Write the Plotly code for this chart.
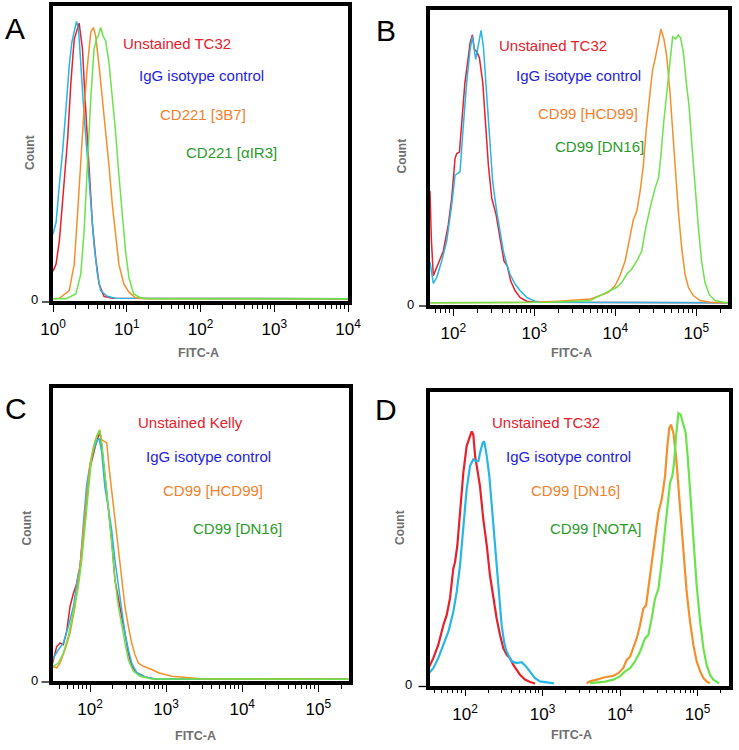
import math
import plotly.graph_objects as go

W, H = 739, 750

# ---------------- data (FITC-A value, normalised count) ----------------
# Panel A
A_red_x = [1.0, 1.10, 1.22, 1.42, 1.58, 1.75, 1.94, 2.26, 2.51, 2.72, 2.93, 3.18, 3.42, 3.79, 4.21, 4.91, 6.37, 10000]
A_red_y = [9.5, 11.9, 19.8, 38.8, 54.5, 73.6, 88.2, 93.6, 84.8, 68.0, 54.5, 38.8, 25.4, 14.1, 5.2, 1.0, 0.3, 0.2]
A_cyan_x = [1.0, 1.10, 1.22, 1.35, 1.50, 1.66, 1.80, 2.08, 2.22, 2.38, 2.64, 2.93, 3.25, 3.60, 4.00, 4.43, 5.45, 7.05, 10000]
A_cyan_y = [22.0, 26.0, 38.8, 50.1, 64.6, 79.2, 87.1, 94.2, 91.6, 79.2, 62.4, 47.8, 32.1, 18.6, 8.5, 2.9, 1.0, 0.3, 0.2]
A_orange_x = [1.0, 1.22, 1.66, 1.94, 2.15, 2.38, 2.64, 2.93, 3.25, 3.53, 3.79, 4.21, 4.67, 5.17, 5.73, 6.37, 7.05, 7.82, 9.12, 10.7, 13.1, 17.9, 10000]
A_orange_y = [0.2, 0.3, 2.9, 11.9, 28.7, 47.8, 64.6, 79.2, 90.5, 92.1, 89.3, 79.2, 68.0, 59.0, 45.6, 32.1, 20.9, 11.9, 5.2, 2.4, 0.5, 0.2, 0.2]
A_green_x = [1.0, 1.50, 2.04, 2.38, 2.64, 2.93, 3.25, 3.60, 3.88, 4.12, 4.43, 4.76, 5.17, 5.73, 6.37, 7.05, 7.82, 8.67, 9.62, 10.7, 12.4, 15.3, 19.8, 10000]
A_green_y = [0.2, 0.2, 1.8, 8.5, 23.1, 45.6, 68.0, 84.8, 88.2, 89.3, 92.1, 89.3, 87.6, 80.4, 69.1, 56.8, 42.2, 28.7, 16.4, 7.4, 1.8, 0.5, 0.2, 0.2]

# Panel B
B_red_x = [51.5, 53.5, 56.6, 65.3, 75.3, 86.7, 95.5, 105, 110, 119, 127, 139, 149, 161, 172, 182, 194, 210, 231, 251, 271, 298, 337, 377, 422, 464, 510, 578, 665, 805, 1020, 250000]
B_red_y = [38.0, 22.0, 9.3, 13.2, 17.7, 26.6, 35.6, 49.0, 50.7, 51.2, 61.3, 74.7, 80.9, 88.2, 90.9, 85.9, 85.3, 83.1, 74.7, 60.2, 46.7, 35.6, 30.0, 22.1, 14.3, 12.6, 7.6, 4.3, 2.0, 0.7, 0.3, 0.2]
B_cyan_x = [51.5, 56.6, 62.4, 71.9, 82.8, 95.5, 105, 112, 121, 131, 146, 161, 172, 189, 204, 220, 235, 253, 276, 306, 343, 377, 414, 456, 501, 578, 665, 805, 1020, 1290, 250000]
B_cyan_y = [14.0, 6.7, 8.7, 14.3, 21.0, 33.3, 43.4, 44.0, 44.5, 57.9, 74.7, 85.9, 90.4, 82.6, 88.2, 92.4, 87.0, 74.7, 57.9, 41.2, 31.1, 24.4, 17.7, 13.2, 9.8, 6.5, 4.3, 2.0, 0.7, 0.3, 0.2]
B_orange_x = [52, 1000, 2000, 3500, 4880, 6480, 8210, 9910, 11400, 13200, 14900, 16700, 18400, 20200, 22200, 23900, 26300, 28900, 30900, 34000, 36600, 39900, 43100, 47300, 51000, 55100, 60000, 65900, 72500, 79700, 91800, 111000, 148000, 250000]
B_orange_y = [0.2, 0.3, 0.7, 1.0, 1.4, 2.6, 3.7, 5.9, 9.3, 14.3, 21.0, 28.3, 31.1, 37.8, 46.7, 57.9, 69.1, 79.2, 82.6, 88.2, 92.8, 89.3, 83.7, 71.4, 57.9, 44.5, 31.1, 18.8, 9.8, 5.4, 2.6, 0.9, 0.3, 0.2]
B_green_x = [52, 1500, 3000, 4880, 6480, 8610, 10400, 12000, 13800, 15900, 18400, 21200, 23300, 26800, 30900, 34000, 36300, 39200, 43100, 47300, 51000, 55600, 60000, 64100, 69200, 76000, 81200, 87600, 96300, 106000, 116000, 128000, 145000, 170000, 215000, 250000]
B_green_y = [0.2, 0.3, 0.6, 0.9, 2.6, 4.3, 5.4, 7.0, 9.8, 11.5, 14.3, 17.7, 24.4, 32.2, 38.9, 42.3, 49.0, 60.2, 71.4, 83.7, 90.2, 89.5, 90.9, 89.8, 84.8, 73.6, 66.9, 54.6, 38.9, 25.5, 14.3, 7.0, 2.8, 0.9, 0.3, 0.2]

# Panel C
C_red_x = [32.1, 33.0, 36.5, 40.4, 44.6, 49.4, 54.6, 60.4, 66.8, 73.9, 81.7, 90.5, 100, 110, 119, 129, 135, 142, 157, 174, 193, 213, 236, 261, 288, 319, 353, 411, 528, 714, 250000]
C_red_y = [5.5, 6.8, 11.3, 12.5, 11.9, 16.5, 24.8, 29.3, 32.7, 38.3, 50.6, 61.9, 71.9, 76.4, 79.8, 82.6, 84.3, 79.8, 69.7, 58.5, 47.2, 33.8, 27.0, 21.4, 15.8, 9.1, 4.6, 2.4, 1.0, 0.3, 0.2]
C_cyan_x = [32.1, 33.0, 38.4, 44.6, 51.9, 60.4, 70.2, 73.9, 81.7, 90.5, 100, 110, 122, 131, 142, 157, 174, 193, 213, 236, 261, 288, 319, 353, 411, 528, 714, 250000]
C_cyan_y = [6.5, 7.4, 10.2, 12.5, 18.1, 24.8, 36.0, 38.3, 52.9, 66.3, 73.1, 77.5, 80.9, 82.0, 77.5, 65.2, 58.5, 50.6, 40.5, 31.5, 22.6, 15.8, 10.2, 5.7, 2.4, 1.0, 0.3, 0.2]
C_orange_x = [32.1, 33.0, 36.5, 40.4, 46.9, 54.6, 63.5, 73.9, 81.7, 90.5, 100, 110, 122, 133, 142, 154, 166, 178, 193, 213, 236, 261, 288, 319, 353, 390, 432, 501, 584, 647, 790, 968, 1190, 1450, 1960, 3000, 250000]
C_orange_y = [4.4, 4.6, 4.0, 5.7, 10.2, 15.8, 24.8, 38.3, 50.6, 63.0, 73.1, 78.7, 82.6, 84.8, 81.5, 80.9, 80.4, 71.9, 64.1, 52.9, 43.9, 34.9, 24.8, 18.1, 12.5, 8.5, 5.7, 4.6, 4.0, 3.5, 2.4, 1.8, 1.2, 1.0, 0.7, 0.3, 0.2]
C_green_x = [32.1, 33.0, 38.4, 44.6, 51.9, 60.4, 70.2, 77.8, 85.9, 95.1, 105, 116, 126, 133, 142, 157, 174, 193, 213, 236, 261, 288, 319, 371, 454, 647, 250000]
C_green_y = [4.0, 4.6, 5.7, 9.1, 14.7, 22.6, 31.5, 40.5, 52.9, 65.2, 75.3, 80.9, 83.2, 84.8, 80.9, 70.8, 58.5, 46.1, 33.8, 24.8, 18.1, 12.5, 6.8, 2.9, 1.2, 0.3, 0.2]

# Panel D
D_red_x = [34.8, 39.0, 45.2, 52.5, 58.0, 64.0, 70.6, 74.3, 79.6, 86.2, 95.1, 105, 114, 122, 128, 135, 144, 156, 172, 191, 210, 232, 256, 283, 312, 345, 381, 420, 464, 513, 594, 690, 800]
D_red_y = [6.0, 8.8, 13.3, 20.0, 23.4, 29.1, 39.2, 41.4, 47.1, 58.3, 71.8, 80.9, 83.7, 85.9, 84.8, 77.5, 73.0, 67.3, 56.1, 47.1, 36.9, 29.1, 22.3, 16.7, 12.2, 9.9, 8.8, 6.5, 4.8, 3.1, 1.5, 0.7, 0.2]
D_cyan_x = [34.8, 39.0, 45.2, 52.5, 61.0, 70.6, 78.1, 86.2, 95.1, 105, 116, 128, 139, 149, 156, 169, 177, 191, 206, 221, 237, 256, 277, 297, 319, 338, 362, 400, 464, 539, 612, 690, 800, 929, 1130, 1400]
D_cyan_y = [3.9, 5.4, 8.8, 13.3, 17.8, 24.5, 31.3, 40.3, 52.7, 66.2, 74.1, 76.4, 75.8, 75.8, 78.6, 82.0, 82.5, 77.5, 70.7, 60.6, 49.3, 39.2, 29.1, 20.0, 14.4, 11.6, 9.9, 7.7, 7.1, 7.4, 6.0, 4.3, 2.0, 0.9, 0.6, 0.2]
D_orange_x = [3700, 4100, 5000, 6400, 8200, 9510, 11000, 12200, 13500, 14900, 16400, 18100, 20000, 21700, 23200, 25600, 28300, 31300, 34500, 38100, 40800, 43300, 45500, 48800, 52800, 56600, 60700, 65600, 72400, 80000, 88300, 97500, 108000, 119000, 131000, 145000]
D_orange_y = [0.3, 0.9, 1.5, 2.3, 2.8, 3.7, 5.4, 8.2, 9.3, 12.2, 15.5, 20.0, 25.7, 26.8, 32.4, 41.4, 49.3, 58.3, 62.8, 70.7, 80.9, 87.1, 88.2, 85.4, 77.5, 67.3, 56.1, 43.7, 31.3, 21.2, 13.3, 7.7, 4.3, 2.0, 0.9, 0.3]
D_green_x = [4100, 6100, 8200, 10000, 11600, 13500, 15600, 18100, 21000, 23200, 25600, 28300, 31300, 34500, 38100, 40800, 44200, 47300, 49800, 52800, 56600, 60700, 65600, 70300, 74600, 80000, 88300, 97500, 108000, 119000, 131000, 145000, 160000, 177000, 190000]
D_green_y = [0.3, 0.7, 1.5, 2.6, 4.3, 5.4, 7.7, 11.0, 15.5, 16.7, 22.3, 29.1, 32.4, 41.4, 52.7, 59.5, 68.5, 70.7, 75.2, 84.2, 92.1, 91.6, 88.7, 85.4, 77.5, 65.1, 49.3, 33.5, 21.2, 12.2, 6.5, 3.1, 1.5, 0.7, 0.2]

# labels
A_labels = ["Unstained TC32", "IgG isotype control", "CD221 [3B7]", "CD221 [αIR3]"]
B_labels = ["Unstained TC32", "IgG isotype control", "CD99 [HCD99]", "CD99 [DN16]"]
C_labels = ["Unstained Kelly", "IgG isotype control", "CD99 [HCD99]", "CD99 [DN16]"]
D_labels = ["Unstained TC32", "IgG isotype control", "CD99 [DN16]", "CD99 [NOTA]"]
A_decades = [0, 1, 2, 3, 4]
BCD_decades = [2, 3, 4, 5]

# ---------------- styling ----------------
LINE_COLORS = ["#E8202C", "#27B6E6", "#F58F2A", "#6BE34A"]
TEXT_COLORS = ["#E8202C", "#1E1EDC", "#F2802C", "#2A9A2A"]
FONT = "Liberation Sans, Arial, sans-serif"

panels = [
    dict(letter="A", series=[(A_red_x, A_red_y), (A_cyan_x, A_cyan_y), (A_orange_x, A_orange_y), (A_green_x, A_green_y)],
         labels=A_labels, decades=A_decades, xr=[0.0, 4.0], yr=[-0.6, 99.4],
         box=(53, 6, 348, 301), lw=1.5, letter_xy=(15, 29),
         text_xy=[(121, 43), (137, 76), (158, 114), (184, 152)],
         zero_xy=(34.5, 299), count_xy=(30, 153), fitc_xy=(198, 352.5)),
    dict(letter="B", series=[(B_red_x, B_red_y), (B_cyan_x, B_cyan_y), (B_orange_x, B_orange_y), (B_green_x, B_green_y)],
         labels=B_labels, decades=BCD_decades, xr=[1.712, 5.391], yr=[-0.6, 99.3],
         box=(430, 10, 728, 305), lw=1.5, letter_xy=(386, 30),
         text_xy=[(497, 45), (514, 76), (536, 113), (553, 146)],
         zero_xy=(410.5, 304), count_xy=(401.5, 156), fitc_xy=(571, 352.5)),
    dict(letter="C", series=[(C_red_x, C_red_y), (C_cyan_x, C_cyan_y), (C_orange_x, C_orange_y), (C_green_x, C_green_y)],
         labels=C_labels, decades=BCD_decades, xr=[1.507, 5.397], yr=[-0.4, 99.2],
         box=(52.5, 387.5, 348.5, 681), lw=1.5, letter_xy=(16, 408),
         text_xy=[(136, 423), (144, 456), (161, 491), (191, 528)],
         zero_xy=(34.5, 680), count_xy=(26.5, 528), fitc_xy=(195, 736)),
    dict(letter="D", series=[(D_red_x, D_red_y), (D_cyan_x, D_cyan_y), (D_orange_x, D_orange_y), (D_green_x, D_green_y)],
         labels=D_labels, decades=BCD_decades, xr=[1.542, 5.406], yr=[-0.5, 99.3],
         box=(429.5, 392, 729, 685.5), lw=2.2, letter_xy=(385.5, 409),
         text_xy=[(490, 423), (504, 456), (529, 491), (548, 528)],
         zero_xy=(408, 684), count_xy=(400, 528), fitc_xy=(571, 735)),
]


def px(x):
    return x / W


def py(y):
    return 1 - y / H


fig = go.Figure()
annotations = []
layout_axes = {}

for i, p in enumerate(panels):
    n = "" if i == 0 else str(i + 1)
    xa, ya = "x" + n, "y" + n
    for (xs, ys), col in zip(p["series"], LINE_COLORS):
        fig.add_trace(go.Scatter(x=xs, y=ys, mode="lines", xaxis=xa, yaxis=ya,
                                 line=dict(color=col, width=p["lw"]), hoverinfo="skip",
                                 showlegend=False, cliponaxis=True))
    x0, y0, x1, y1 = p["box"]
    lo, hi = p["xr"]
    minors = []
    for k in range(int(lo) - 1, int(hi) + 2):
        for m in range(2, 10):
            v = m * 10 ** k
            if lo <= math.log10(v) <= hi:
                minors.append(v)
    layout_axes["xaxis" + n] = dict(
        type="log", range=p["xr"], domain=[px(x0), px(x1)], anchor=ya,
        automargin=False,
        showline=True, linecolor="black", linewidth=3.5, mirror=True,
        showgrid=False, zeroline=False,
        ticks="outside", ticklen=7, tickwidth=1.2, tickcolor="black",
        tickvals=[10 ** d for d in p["decades"]],
        ticktext=["10<sup>%d</sup>" % d for d in p["decades"]],
        tickfont=dict(family=FONT, size=17, color="black"),
        ticklabelstandoff=3,
        minor=dict(tickmode="array", tickvals=minors, ticks="outside", ticklen=4,
                   tickwidth=1, tickcolor="black"),
        fixedrange=True,
    )
    layout_axes["yaxis" + n] = dict(
        range=p["yr"], domain=[py(y1), py(y0)], anchor=xa,
        automargin=False,
        showline=True, linecolor="black", linewidth=3.5, mirror=True,
        showgrid=False, zeroline=False, ticks="", showticklabels=False,
        fixedrange=True,
    )
    # zero tick label and tick mark
    annotations.append(dict(text="0", x=px(p["zero_xy"][0]), y=py(p["zero_xy"][1]),
                            xref="paper", yref="paper", showarrow=False,
                            xanchor="center", yanchor="middle",
                            font=dict(family=FONT, size=13, color="black")))
    fig.add_shape(type="line", xref="paper", yref="paper",
                  x0=px(x0 - 11), x1=px(x0 - 1.5), y0=py(y1 + 1), y1=py(y1 + 1),
                  line=dict(color="black", width=1.3))
    # panel letter
    annotations.append(dict(text=p["letter"], x=px(p["letter_xy"][0]), y=py(p["letter_xy"][1]),
                            xref="paper", yref="paper", showarrow=False,
                            xanchor="center", yanchor="middle",
                            font=dict(family=FONT, size=30, color="black")))
    # axis titles
    annotations.append(dict(text="<b>Count</b>", x=px(p["count_xy"][0]), y=py(p["count_xy"][1]),
                            xref="paper", yref="paper", showarrow=False, textangle=-90,
                            xanchor="center", yanchor="middle",
                            font=dict(family=FONT, size=12, color="#6E6E6E")))
    annotations.append(dict(text="<b>FITC-A</b>", x=px(p["fitc_xy"][0]), y=py(p["fitc_xy"][1]),
                            xref="paper", yref="paper", showarrow=False,
                            xanchor="center", yanchor="middle",
                            font=dict(family=FONT, size=12.5, color="#6E6E6E")))
    # in-plot labels
    for lab, (tx, ty), col in zip(p["labels"], p["text_xy"], TEXT_COLORS):
        annotations.append(dict(text=lab, x=px(tx), y=py(ty), xref="paper", yref="paper",
                                showarrow=False, xanchor="left", yanchor="middle",
                                font=dict(family=FONT, size=15, color=col)))

fig.update_layout(
    width=W, height=H, margin=dict(l=0, r=0, t=0, b=0, pad=0, autoexpand=False),
    paper_bgcolor="white", plot_bgcolor="white", showlegend=False,
    annotations=annotations, **layout_axes,
)

fig.write_html("out.html",
               config={"displayModeBar": False},
               post_script="document.body.style.margin='0';document.body.style.padding='0';")
